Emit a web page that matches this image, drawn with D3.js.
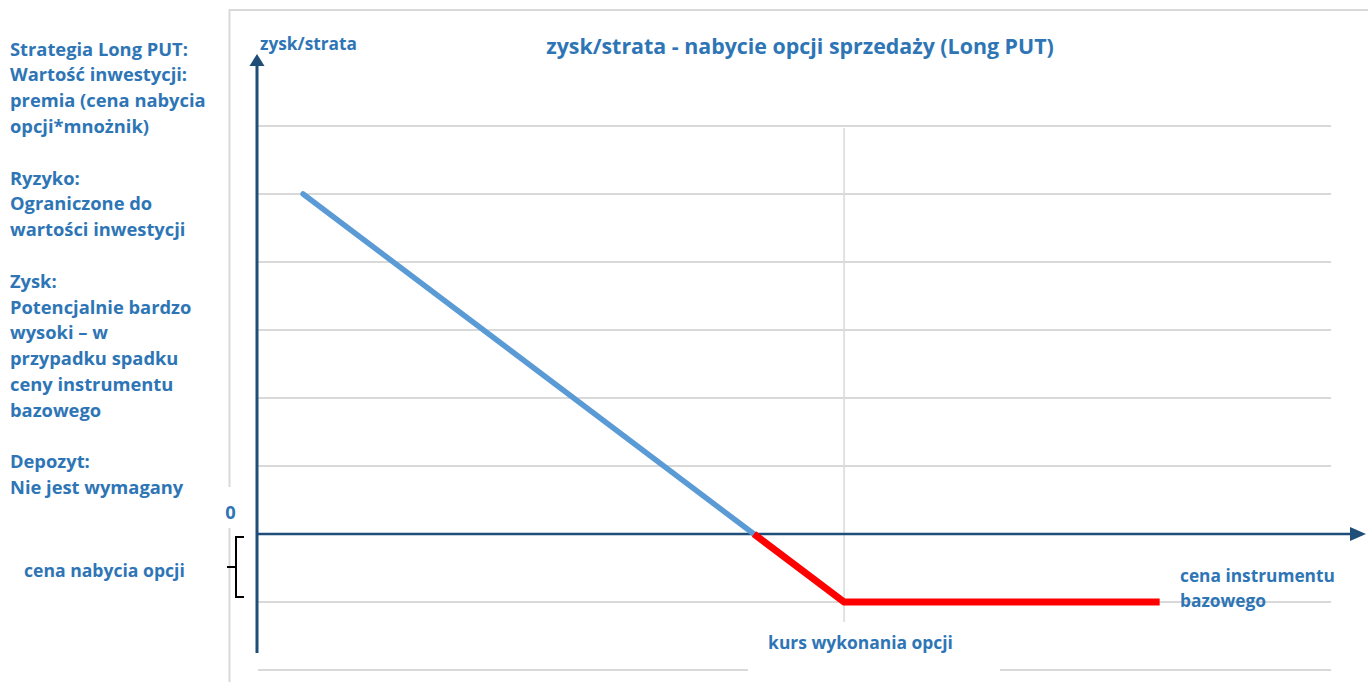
<!DOCTYPE html>
<html><head><meta charset="utf-8">
<script src="https://cdn.jsdelivr.net/npm/d3@7"></script>
<style>html,body{margin:0;padding:0;background:#fff;overflow:hidden}</style>
</head><body><svg id="c" width="1368" height="682"></svg>
<script>
// ---- data ----
const priceX = [4, 9, 10, 13.5];          // underlying price
const profitY = [5, 0, -1, -1];           // profit/loss
const gridLevels = [-2, -1, 0, 1, 2, 3, 4, 5, 6];
const strike = 10;
const premium = 1;
const titleText = "zysk/strata - nabycie opcji sprzedaży (Long PUT)";
const yAxisLabel = "zysk/strata";
const xAxisLabel = ["cena instrumentu", "bazowego"];
const strikeLabel = "kurs wykonania opcji";
const premiumLabel = "cena nabycia opcji";
const zeroLabel = "0";
const sideNotes = ["Strategia Long PUT:", "Wartość inwestycji:", "premia (cena nabycia", "opcji*mnożnik)", "",
  "Ryzyko:", "Ograniczone do", "wartości inwestycji", "",
  "Zysk:", "Potencjalnie bardzo", "wysoki – w", "przypadku spadku", "ceny instrumentu", "bazowego", "",
  "Depozyt:", "Nie jest wymagany"];

// ---- styles ----
const TXT = "#2E75B6", AX = "#1F4E79", GRID = "#D9D9D9";
const FONT = "'Open Sans', Lato, sans-serif";

const svg = d3.select("#c");
const x = d3.scaleLinear().domain([3.5, 15.5]).range([258, 1340]);
const y = d3.scaleLinear().domain([-2, 6]).range([670, 126]);

// chart frame
svg.append("rect").attr("x", 229.5).attr("y", 10).attr("width", 1200).attr("height", 700)
  .attr("fill", "none").attr("stroke", GRID).attr("stroke-width", 2);

// horizontal gridlines
svg.append("g").selectAll("line").data(gridLevels).join("line")
  .attr("x1", x(3.5)).attr("x2", x(15.4)).attr("y1", d => y(d)).attr("y2", d => y(d))
  .attr("stroke", GRID).attr("stroke-width", 2);

// strike vertical line
svg.append("line").attr("x1", x(strike)).attr("x2", x(strike))
  .attr("y1", y(5.97)).attr("y2", y(-1.3)).attr("stroke", GRID).attr("stroke-width", 1.5);

// label boxes (white backgrounds)
svg.append("rect").attr("x", 748).attr("y", 622).attr("width", 252).attr("height", 60).attr("fill", "#fff");
svg.append("rect").attr("x", 222).attr("y", 487).attr("width", 20).attr("height", 41).attr("fill", "#fff");

// axes
const axisX0 = x(3.5) - 1;
svg.append("line").attr("x1", axisX0).attr("x2", axisX0).attr("y1", 64).attr("y2", 653)
  .attr("stroke", AX).attr("stroke-width", 3);
svg.append("path").attr("d", `M${axisX0},54 L${axisX0 - 7.5},66 L${axisX0 + 7.5},66 Z`).attr("fill", AX);
svg.append("line").attr("x1", axisX0).attr("x2", 1352).attr("y1", y(0)).attr("y2", y(0))
  .attr("stroke", AX).attr("stroke-width", 2.5);
svg.append("path").attr("d", `M1366,${y(0)} L1350,${y(0) - 7} L1350,${y(0) + 7} Z`).attr("fill", AX);

// payoff lines
const pts = priceX.map((p, i) => [p, profitY[i]]);
const line = d3.line().x(d => x(d[0])).y(d => y(d[1]));
const profitPart = pts.filter(d => d[1] >= 0);
const lossPart = pts.filter(d => d[1] <= 0);
svg.append("path").attr("d", line(profitPart)).attr("fill", "none")
  .attr("stroke", "#5B9BD5").attr("stroke-width", 5.5).attr("stroke-linecap", "round");
svg.append("path").attr("d", line(lossPart)).attr("fill", "none")
  .attr("stroke", "#FF0000").attr("stroke-width", 7).attr("stroke-linejoin", "miter");

// premium bracket
const bt = y(0) + 3, bb = y(-premium) - 5, bm = (bt + bb) / 2;
svg.append("path").attr("d", `M244,${bt} L236,${bt} L236,${bb} L244,${bb} M236,${bm} L227,${bm}`)
  .attr("fill", "none").attr("stroke", "#000").attr("stroke-width", 2);

// texts
function txt(s, px, py, size, anchor) {
  return svg.append("text").attr("x", px).attr("y", py).attr("fill", TXT)
    .attr("font-family", FONT).attr("font-weight", "bold").attr("font-size", size)
    .attr("text-anchor", anchor || "start").attr("dominant-baseline", "central").text(s);
}
// font size that makes string s span the given pixel width
function fitSize(s, w) {
  const t = txt(s, -999, -999, 100);
  const len = t.node().getComputedTextLength();
  t.remove();
  return 100 * w / len;
}
const sideSize = fitSize(sideNotes[0], 178);
txt(titleText, 800, 45, fitSize(titleText, 508), "middle");
txt(yAxisLabel, 260, 43, fitSize(yAxisLabel, 97));
txt(zeroLabel, 230.5, 511, sideSize, "middle");
txt(strikeLabel, 860.5, 642, fitSize(strikeLabel, 185), "middle");
const xs = fitSize(xAxisLabel[0], 155);
txt(xAxisLabel[0], 1180, 575, xs);
txt(xAxisLabel[1], 1180, 600, xs);
txt(premiumLabel, 24, 570, fitSize(premiumLabel, 161));
sideNotes.forEach((s, i) => { if (s) txt(s, 10, 48 + i * 25.8, sideSize); });
</script></body></html>
